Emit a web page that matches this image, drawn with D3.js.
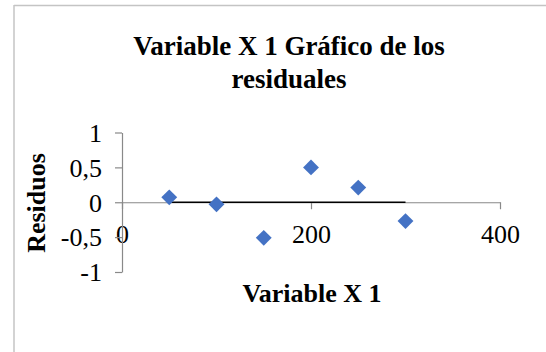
<!DOCTYPE html>
<html>
<head>
<meta charset="utf-8">
<script src="https://cdn.jsdelivr.net/npm/d3@7"></script>
<style>
  html, body { margin: 0; padding: 0; background: #fff; }
  svg { display: block; }
  svg text { font-family: "Liberation Serif", "Times New Roman", serif !important; fill: #000; }
</style>
</head>
<body>
<svg id="chart" width="546" height="352"></svg>
<script>
// Residual plot data: Variable X 1 against residuals
const xValues = [50, 100, 150, 200, 250, 300];
const residuals = [0.07, -0.03, -0.51, 0.50, 0.21, -0.27];
const xTicks = [0, 200, 400];
const yTicks = [-1, -0.5, 0, 0.5, 1];
const titleLines = ["Variable X 1 Gráfico de los", "residuales"];
const xTitle = "Variable X 1";
const yTitle = "Residuos";

const svg = d3.select("#chart");
const serif = '"Liberation Serif", "Times New Roman", serif';

// Chart frame (top and left edges)
svg.append("line").attr("x1", 14).attr("x2", 546).attr("y1", 5.5).attr("y2", 5.5)
  .attr("stroke", "#c4c4c4").attr("stroke-width", 1.5);
svg.append("line").attr("x1", 14).attr("x2", 14).attr("y1", 5).attr("y2", 352)
  .attr("stroke", "#c4c4c4").attr("stroke-width", 1.5);

const x = d3.scaleLinear().domain([0, 400]).range([122, 500]);
const y = d3.scaleLinear().domain([-1, 1]).range([272, 132.5]);

const fmt = d => d3.format("")(d).replace(".", ",").replace("−", "-");

// X axis sits at y = 0
const xAxis = svg.append("g")
  .attr("transform", `translate(0,${y(0)})`)
  .call(d3.axisBottom(x).tickValues(xTicks).tickSize(7).tickSizeOuter(0).tickFormat(fmt))
  .attr("font-family", serif).attr("font-size", 26);
xAxis.select(".domain").attr("stroke", "#898989").attr("stroke-width", 1.2);
xAxis.selectAll(".tick line").attr("stroke", "#898989").attr("stroke-width", 1.2);
xAxis.selectAll(".tick text")
  .style("font-family", serif).style("font-size", "26px")
  .attr("dy", null).attr("y", 41);

// Y axis sits at x = 0
const yAxis = svg.append("g")
  .attr("transform", `translate(${x(0)},0)`)
  .call(d3.axisLeft(y).tickValues(yTicks).tickSize(7).tickSizeOuter(0).tickFormat(fmt))
  .attr("font-family", serif).attr("font-size", 26);
yAxis.select(".domain").attr("stroke", "#898989").attr("stroke-width", 1.2);
yAxis.selectAll(".tick line").attr("stroke", "#898989").attr("stroke-width", 1.2);
yAxis.selectAll(".tick text")
  .style("font-family", serif).style("font-size", "26px")
  .attr("x", -20).attr("dy", "0.34em");

// Zero reference line across the observed X range
svg.append("line")
  .attr("x1", x(d3.min(xValues))).attr("x2", x(d3.max(xValues)))
  .attr("y1", y(0)).attr("y2", y(0))
  .attr("stroke", "#000").attr("stroke-width", 1.6);

// Residual markers (diamonds)
const diamond = d3.symbol().type(d3.symbolDiamond2).size(160);
svg.append("g").selectAll("path")
  .data(xValues.map((v, i) => [v, residuals[i]]))
  .join("path")
  .attr("d", diamond)
  .attr("transform", d => `translate(${x(d[0])},${y(d[1])})`)
  .attr("fill", "#4472c4");

// Title
svg.append("text")
  .attr("text-anchor", "middle").attr("font-weight", "bold").style("font-size", "27px")
  .selectAll("tspan").data(titleLines).join("tspan")
  .attr("x", 289).attr("y", (d, i) => 55 + i * 33)
  .text(d => d);

// Axis titles
svg.append("text")
  .attr("x", 312).attr("y", 302)
  .attr("text-anchor", "middle").attr("font-weight", "bold").style("font-size", "26px")
  .text(xTitle);

svg.append("text")
  .attr("transform", "translate(45,203) rotate(-90)")
  .attr("text-anchor", "middle").attr("font-weight", "bold").style("font-size", "26px")
  .text(yTitle);
</script>
</body>
</html>
